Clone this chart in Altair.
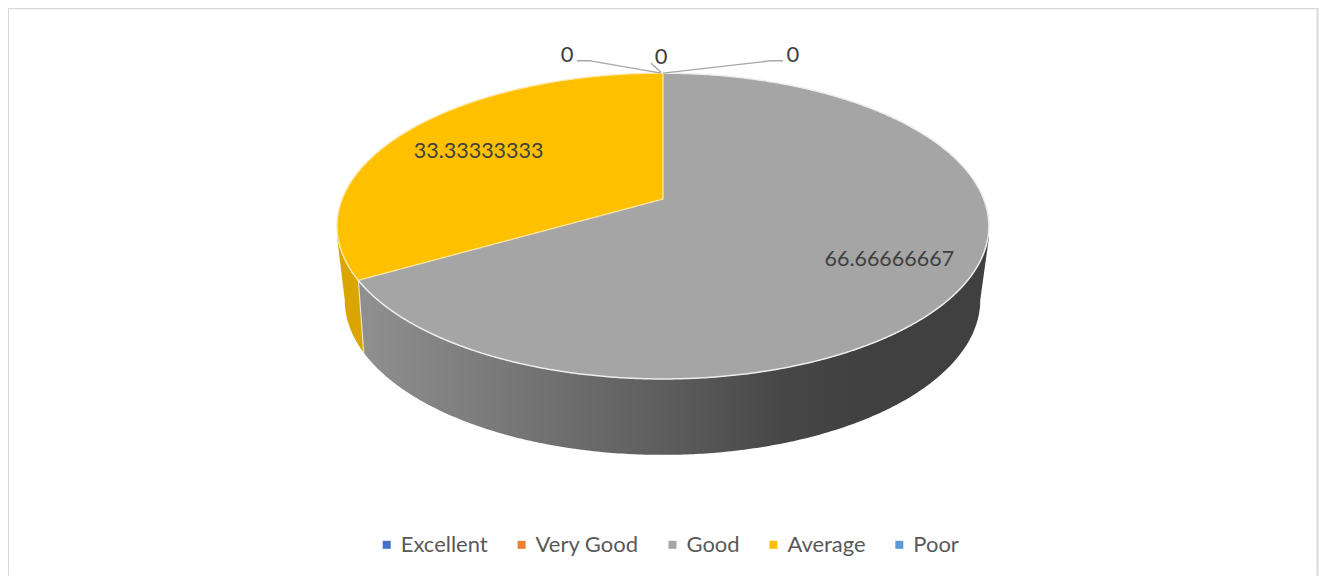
import numpy as np
import pandas as pd
import altair as alt

# ---- chart values ----
categories = ["Excellent", "Very Good", "Good", "Average", "Poor"]
values = [0, 0, 66.66666667, 33.33333333, 0]
value_labels = ["0", "0", "66.66666667", "33.33333333", "0"]
palette = ["#4472C4", "#ED7D31", "#A5A5A5", "#FFC000", "#5B9BD5"]

# ---- layout of the tilted pie (page pixels) ----
CX, CY = 663.5, 226.0
A, B, C, D = 153.0, -27.0, -54.0 / 306.0, 321.0   # perspective of the top face
BX, BY, BRX, BRY = 663.0, 300.0, 318.0, 155.0     # outline of the bottom face
FONT = "Lato"
FS = 22


def project(r, deg):
    """Pie polar position (degrees clockwise from 12 o'clock) to page pixels."""
    t = np.radians(deg)
    u, v = r * np.sin(t), -r * np.cos(t)
    w = 1 + C * v
    return CX + D * u / w, CY + (A * v + B) / w


edges = np.cumsum([0] + values) / np.sum(values) * 360
mids = (edges[:-1] + edges[1:]) / 2

# top face outline split in upper and lower arcs
th = np.linspace(0, 360, 7201)
ox, oy = project(1.0, th)
i_min, i_max = int(np.argmin(ox)), int(np.argmax(ox))
lo_idx = np.arange(i_max, i_min + 1)
up_idx = np.r_[i_min:len(th), 1:i_max + 1]
xmin, xmax = ox[i_min], ox[i_max]


def top_upper(x):
    return np.interp(x, ox[up_idx], oy[up_idx])


def top_lower(x):
    return np.interp(x, ox[lo_idx][::-1], oy[lo_idx][::-1])


def grid(a, b, n=220):
    return a + (b - a) * (1 - np.cos(np.linspace(0, np.pi, n))) / 2


apex_x, apex_y = project(0.0, 0.0)
cut = edges[3]                                # Good / Average boundary
edge_x, edge_y = project(1.0, cut)

# whole top face (Good)
gx = grid(xmin, xmax, 400)
good_top = pd.DataFrame({"x": gx, "y": top_upper(gx), "y2": top_lower(gx), "category": "Good"})

# Average wedge
wx = np.unique(np.r_[grid(xmin, edge_x, 120), np.linspace(edge_x, apex_x, 40),
                     grid(xmin, apex_x, 200)])
wl = np.where(wx <= edge_x, top_lower(wx),
              edge_y + (apex_y - edge_y) * (wx - edge_x) / (apex_x - edge_x))
avg_top = pd.DataFrame({"x": wx, "y": top_upper(wx), "y2": wl, "category": "Average"})


# side wall
def bottom_lower(x):
    s = np.clip((x - BX) / BRX, -1, 1)
    return BY + BRY * np.sqrt(1 - s ** 2)


def wall_lower(x):
    x = np.asarray(x, float)
    low = bottom_lower(x)
    left = BX - BRX
    right = BX + BRX
    ty_l, ty_r = CY + 12, CY + 12
    low = np.where(x < left, ty_l + (BY - ty_l) * (x - xmin) / (left - xmin), low)
    low = np.where(x > right, BY + (ty_r - BY) * (x - right) / (xmax - right), low)
    return low


foot_x = 364.0
foot_y = float(bottom_lower(foot_x))

ox_side = np.unique(np.r_[grid(xmin, BX - BRX, 30), grid(BX - BRX, foot_x, 60)])
avg_side = pd.DataFrame({"x": ox_side, "y": top_lower(ox_side),
                         "y2": np.maximum(wall_lower(ox_side), top_lower(ox_side))})

gs_x = np.unique(np.r_[np.linspace(edge_x, foot_x, 12), grid(foot_x, BX + BRX, 300),
                       np.linspace(BX + BRX, xmax, 16)])
gs_low = np.where(gs_x < foot_x,
                  edge_y + (foot_y - edge_y) * (gs_x - edge_x) / (foot_x - edge_x),
                  wall_lower(gs_x))
gs_top = top_lower(gs_x)
good_side = pd.DataFrame({"x": gs_x, "y": gs_top, "y2": np.maximum(gs_low, gs_top)})

# data labels inside slices
fractions = {2: (0.76, 1.0), 3: (0.705, 2.5)}
inside = []
for i, (f, dy) in fractions.items():
    lx, ly = project(f, mids[i])
    inside.append({"x": float(lx), "y": float(ly) + dy, "text": value_labels[i]})
inside = pd.DataFrame(inside)

# zero-value labels with leader lines, all anchored on the rim at 12 o'clock
ax_, ay_ = project(1.0, 0.0)
zero_spec = [
    (0, [(-2, 0), (-74, -12.5), (-86, -12.5)], (-96, -18.5)),
    (1, [(-2, -1), (-12, -10)], (-2, -16.5)),
    (4, [(0, 0), (109, -12.5), (120, -12.5)], (130, -18.5)),
]
leader_rows, zero_rows = [], []
for idx, pts, lab in zero_spec:
    for k, (dx, dy) in enumerate(pts):
        leader_rows.append({"x": ax_ + dx, "y": ay_ + dy, "k": k, "s": categories[idx]})
    zero_rows.append({"x": ax_ + lab[0], "y": ay_ + lab[1], "text": value_labels[idx]})
leaders = pd.DataFrame(leader_rows)
zeros = pd.DataFrame(zero_rows)

X = alt.X("x:Q", axis=None, scale=alt.Scale(domain=[8, 1320], range=[0, 1312]))
Y = alt.Y("y:Q", axis=None, scale=alt.Scale(domain=[8, 576], range=[0, 568]))
Y2 = alt.Y2("y2:Q")

color = alt.Color(
    "category:N",
    scale=alt.Scale(domain=categories, range=palette),
    legend=alt.Legend(
        title=None, orient="none", legendX=368, legendY=526, direction="horizontal",
        columns=5, columnPadding=22, symbolType="square", symbolSize=64,
        symbolStrokeWidth=0, symbolOpacity=1, labelFont=FONT, labelFontSize=FS,
        labelColor="#595959", labelOffset=3, labelLimit=200, padding=0,
    ),
)

wall_gradient = alt.LinearGradient(
    gradient="linear", x1=0, x2=1, y1=0, y2=0,
    stops=[
        alt.GradientStop(offset=0, color="#909090"),
        alt.GradientStop(offset=0.49, color="#5D5D5D"),
        alt.GradientStop(offset=0.67, color="#474747"),
        alt.GradientStop(offset=0.8, color="#404040"),
        alt.GradientStop(offset=1, color="#404040"),
    ],
)

frame = pd.DataFrame({"x": [8, 8, 1318.5], "x2": [1320, 8, 1318.5], "y": [8, 8, 8], "y2": [8, 576, 576]})
frame_layer = alt.Chart(frame).mark_rule(color="#D9D9D9", strokeWidth=2).encode(
    x=X, x2="x2:Q", y=Y, y2=Y2
)

side_a = alt.Chart(avg_side).mark_area(color="#DBA500", interpolate="linear").encode(x=X, y=Y, y2=Y2)
side_g = alt.Chart(good_side).mark_area(color=wall_gradient, interpolate="linear").encode(x=X, y=Y, y2=Y2)
side_edge = alt.Chart(pd.DataFrame({"x": [float(edge_x), foot_x], "y": [float(edge_y), foot_y]})).mark_line(
    color="#F2F2F2", strokeWidth=1.2, opacity=0.8).encode(x=X, y=Y)

top_g = alt.Chart(good_top).mark_area(stroke="#EDEDED", strokeWidth=1.5, interpolate="linear", opacity=1).encode(
    x=X, y=Y, y2=Y2, color=color)
top_a = alt.Chart(avg_top).mark_area(stroke="#FFE9A8", strokeWidth=1.2, interpolate="linear", opacity=1).encode(
    x=X, y=Y, y2=Y2, color=color)

leader_layer = alt.Chart(leaders).mark_line(color="#A6A6A6", strokeWidth=1.4).encode(
    x=X, y=Y, detail="s:N", order="k:Q")

text_inside = alt.Chart(inside).mark_text(font=FONT, fontSize=21.5, color="#404040", align="center", baseline="middle").encode(
    x=X, y=Y, text="text:N")
text_zero = alt.Chart(zeros).mark_text(font=FONT, fontSize=FS, color="#404040", align="center", baseline="middle").encode(
    x=X, y=Y, text="text:N")

chart = alt.layer(
    frame_layer, side_a, side_g, side_edge, top_g, top_a, leader_layer, text_inside, text_zero
).properties(
    width=1312, height=568, padding=0,
    autosize=alt.AutoSizeParams(type="none"), background="#FFFFFF",
).configure_view(stroke=None)

chart.save("out.html", embed_options={"renderer": "svg", "actions": False})
